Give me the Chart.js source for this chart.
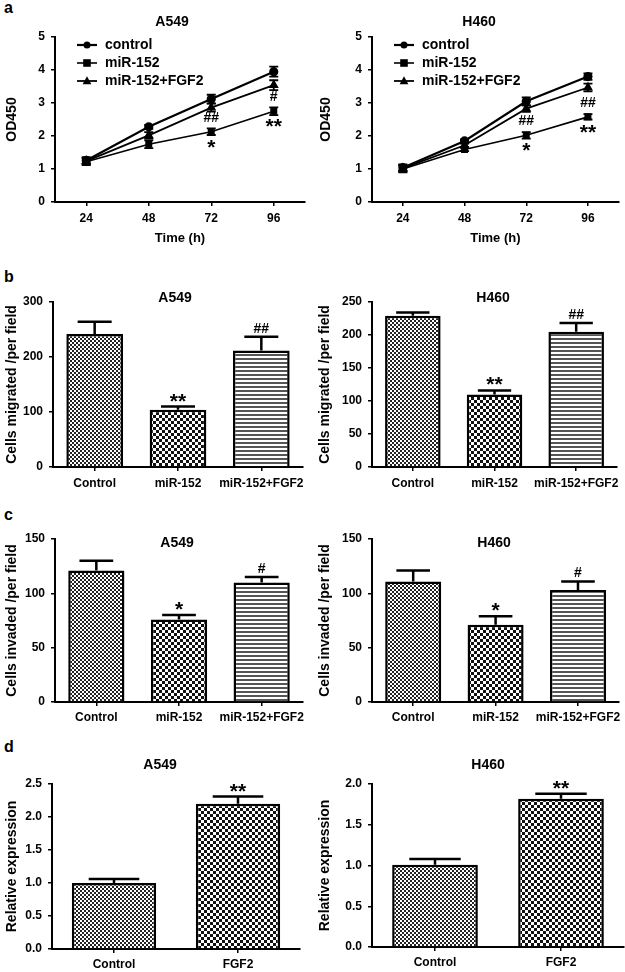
<!DOCTYPE html>
<html>
<head>
<meta charset="utf-8">
<script src="https://cdn.jsdelivr.net/npm/chart.js@4.4.0/dist/chart.umd.min.js"></script>
<style>
body{margin:0;background:#fff;width:625px;height:972px;position:relative;overflow:hidden;font-family:"Liberation Sans",Arial,sans-serif}
canvas{position:absolute}
.lt{position:absolute;left:4px;font-weight:bold;font-size:16px;line-height:16px}
</style>
</head>
<body>
<div class="lt" style="top:0px">a</div>
<div class="lt" style="top:269px">b</div>
<div class="lt" style="top:507px">c</div>
<div class="lt" style="top:739px">d</div>

<canvas id="a1" width="312" height="250" style="left:0;top:0"></canvas>
<canvas id="a2" width="313" height="250" style="left:312px;top:0"></canvas>
<canvas id="b1" width="312" height="245" style="left:0;top:250px"></canvas>
<canvas id="b2" width="313" height="245" style="left:312px;top:250px"></canvas>
<canvas id="c1" width="312" height="235" style="left:0;top:495px"></canvas>
<canvas id="c2" width="313" height="235" style="left:312px;top:495px"></canvas>
<canvas id="d1" width="312" height="242" style="left:0;top:730px"></canvas>
<canvas id="d2" width="313" height="242" style="left:312px;top:730px"></canvas>

<script>
// data
var hours = ['24', '48', '72', '96'];
var groups = ['Control', 'miR-152', 'miR-152+FGF2'];
var exprGroups = ['Control', 'FGF2'];
var seriesNames = ['control', 'miR-152', 'miR-152+FGF2'];

// a: OD450 proliferation
var odA549Control = [1.26, 2.28, 3.12, 3.95];
var odA549Mir = [1.22, 1.75, 2.13, 2.75];
var odA549Fgf = [1.24, 2.02, 2.86, 3.54];
var odA549ControlErr = [0.10, 0.06, 0.13, 0.15];
var odA549MirErr = [0.10, 0.12, 0.10, 0.12];
var odA549FgfErr = [0.10, 0.10, 0.12, 0.15];
var sigA549Mir = ['', '', '*', '**'];
var sigA549Fgf = ['', '', '##', '#'];

var odH460Control = [1.04, 1.85, 3.05, 3.80];
var odH460Mir = [1.00, 1.59, 2.02, 2.58];
var odH460Fgf = [1.02, 1.72, 2.83, 3.47];
var odH460ControlErr = [0.10, 0.05, 0.12, 0.10];
var odH460MirErr = [0.10, 0.05, 0.10, 0.08];
var odH460FgfErr = [0.10, 0.05, 0.10, 0.12];
var sigH460Mir = ['', '', '*', '**'];
var sigH460Fgf = ['', '', '##', '##'];

// b: migration
var migA549 = [242, 104, 212];
var migA549Err = [22, 6, 25];
var migA549Sig = ['', '**', '##'];
var migH460 = [229, 110, 205];
var migH460Err = [5, 6, 13];
var migH460Sig = ['', '**', '##'];

// c: invasion
var invA549 = [121, 76, 110];
var invA549Err = [9, 4, 5];
var invA549Sig = ['', '*', '#'];
var invH460 = [111, 71, 103];
var invH460Err = [10, 8, 8];
var invH460Sig = ['', '*', '#'];

// d: relative expression
var exprA549 = [1.00, 2.20];
var exprA549Err = [0.06, 0.11];
var exprA549Sig = ['', '**'];
var exprH460 = [1.01, 1.82];
var exprH460Err = [0.07, 0.06];
var exprH460Sig = ['', '**'];

var FONT = '"Liberation Sans", Arial, sans-serif';
Chart.defaults.font.family = FONT;
Chart.defaults.font.weight = 'bold';
Chart.defaults.font.size = 12;
Chart.defaults.color = '#000';
Chart.defaults.animation = false;

function makePattern(kind) {
  var c = document.createElement('canvas');
  var g = c.getContext('2d');
  if (kind === 'fine') {
    c.width = c.height = 4;
    g.fillStyle = '#fff'; g.fillRect(0, 0, 4, 4);
    g.fillStyle = '#222'; g.fillRect(0, 0, 2, 2); g.fillRect(2, 2, 2, 2);
  } else if (kind === 'coarse') {
    c.width = c.height = 6;
    g.fillStyle = '#fff'; g.fillRect(0, 0, 6, 6);
    g.fillStyle = '#111'; g.fillRect(0, 0, 3, 3); g.fillRect(3, 3, 3, 3);
  } else {
    c.width = 4; c.height = 4;
    g.fillStyle = '#fff'; g.fillRect(0, 0, 4, 4);
    g.fillStyle = '#555'; g.fillRect(0, 0, 4, 2);
  }
  return g.createPattern(c, 'repeat');
}
var fine = makePattern('fine'), coarse = makePattern('coarse'), stripes = makePattern('stripes');

function inkText(ctx, txt, x, yc) {
  ctx.font = txt.indexOf('*') >= 0 ? 'bold 21px ' + FONT : 'bold 14px ' + FONT;
  ctx.textAlign = 'center';
  ctx.textBaseline = 'alphabetic';
  var m = ctx.measureText(txt);
  ctx.fillText(txt, x, yc + (m.actualBoundingBoxAscent - m.actualBoundingBoxDescent) / 2);
}

function drawMarker(ctx, style, x, y, r) {
  ctx.fillStyle = '#000';
  ctx.beginPath();
  if (style === 'rect') ctx.rect(x - r, y - r, 2 * r, 2 * r);
  else if (style === 'triangle') {
    ctx.moveTo(x, y - r * 1.2); ctx.lineTo(x + r * 1.1, y + r * 0.8); ctx.lineTo(x - r * 1.1, y + r * 0.8); ctx.closePath();
  } else ctx.arc(x, y, r, 0, Math.PI * 2);
  ctx.fill();
}

var errorBars = {
  id: 'errorBars',
  afterDatasetsDraw: function(chart) {
    var ctx = chart.ctx, ys = chart.scales.y, isBar = chart.config.type === 'bar';
    ctx.save();
    ctx.strokeStyle = '#000';
    chart.data.datasets.forEach(function(ds, di) {
      if (!ds.errors) return;
      chart.getDatasetMeta(di).data.forEach(function(el, i) {
        var v = ds.data[i], e = ds.errors[i];
        var top = ys.getPixelForValue(v + e);
        var bot = isBar ? el.y : ys.getPixelForValue(v - e);
        var cap = isBar ? el.width * 0.3 : 4.5;
        ctx.lineWidth = isBar ? 2.5 : 1.8;
        ctx.beginPath();
        ctx.moveTo(el.x, bot); ctx.lineTo(el.x, top);
        ctx.moveTo(el.x - cap, top); ctx.lineTo(el.x + cap, top);
        if (!isBar) { ctx.moveTo(el.x - cap, bot); ctx.lineTo(el.x + cap, bot); }
        ctx.stroke();
        ctx.fillStyle = '#000';
        if (ds.sig && ds.sig[i]) inkText(ctx, ds.sig[i], el.x, top - 9);
        if (ds.sigBelow && ds.sigBelow[i]) inkText(ctx, ds.sigBelow[i], el.x, el.y + 12);
        if (ds.sigAbove && ds.sigAbove[i]) inkText(ctx, ds.sigAbove[i], el.x, el.y - 15);
      });
    });
    ctx.restore();
  }
};

var inLegend = {
  id: 'inLegend',
  afterDatasetsDraw: function(chart, args, opts) {
    if (!opts.display) return;
    var ctx = chart.ctx, a = chart.chartArea;
    ctx.save();
    chart.data.datasets.forEach(function(ds, i) {
      var y = a.top + 8 + i * 18, x0 = a.left + 22, x1 = a.left + 42;
      ctx.strokeStyle = '#000'; ctx.lineWidth = ds.borderWidth;
      ctx.beginPath(); ctx.moveTo(x0, y); ctx.lineTo(x1, y); ctx.stroke();
      drawMarker(ctx, ds.pointStyle, (x0 + x1) / 2, y, ds.pointRadius);
      ctx.fillStyle = '#000';
      ctx.font = 'bold 14px ' + FONT;
      ctx.textAlign = 'left'; ctx.textBaseline = 'middle';
      ctx.fillText(ds.label, a.left + 50, y);
    });
    ctx.restore();
  }
};

var panelTitle = {
  id: 'panelTitle',
  afterDraw: function(chart, args, o) {
    if (!o.text) return;
    var ctx = chart.ctx;
    ctx.save();
    ctx.fillStyle = '#000';
    ctx.font = 'bold 14px ' + FONT;
    ctx.textAlign = 'center'; ctx.textBaseline = 'middle';
    ctx.fillText(o.text, o.x, o.y);
    ctx.restore();
  }
};

function axisY(max, step, title, yW, titlePad, dec) {
  return {
    min: 0, max: max,
    ticks: { stepSize: step, padding: 6, color: '#000', font: { size: 12, weight: 'bold' },
      callback: function(v) { return dec ? v.toFixed(dec) : v; } },
    grid: { drawOnChartArea: false, drawTicks: true, tickLength: 4, color: '#000', lineWidth: 1.5 },
    border: { color: '#000', width: 2 },
    title: { display: true, text: title, color: '#000', font: { size: 14, weight: 'bold' }, padding: { top: titlePad, bottom: 0 } },
    afterFit: function(s) { s.width = yW; }
  };
}

function axisX(xH, tickPad, title) {
  return {
    type: 'category', offset: true,
    ticks: { padding: tickPad, color: '#000', font: { size: 12, weight: 'bold' }, maxRotation: 0, autoSkip: false },
    grid: { offset: false, drawOnChartArea: false, drawTicks: true, tickLength: 4, color: '#000', lineWidth: 1.5 },
    border: { color: '#000', width: 2 },
    title: title ? { display: true, text: title, color: '#000', font: { size: 13, weight: 'bold' }, padding: { top: 0, bottom: 4 } } : { display: false },
    afterFit: function(s) { s.height = xH; }
  };
}

function lineSet(label, data, errs, style, r, w) {
  return { label: label, data: data, errors: errs, borderColor: '#000', backgroundColor: '#000',
    borderWidth: w, pointStyle: style, pointRadius: r, pointBackgroundColor: '#000', pointBorderColor: '#000', tension: 0 };
}

function lineChart(id, title, tx, yW, titlePad, padR, c, m, f, ce, me, fe, sm, sf) {
  var mir = lineSet(seriesNames[1], m, me, 'rect', 3.8, 1.6);
  mir.sigBelow = sm; mir.sigAbove = sf;
  new Chart(document.getElementById(id), {
    type: 'line',
    data: { labels: hours, datasets: [
      lineSet(seriesNames[0], c, ce, 'circle', 3.5, 2.2),
      mir,
      lineSet(seriesNames[2], f, fe, 'triangle', 4, 1.8)
    ] },
    options: {
      responsive: false,
      layout: { padding: { left: 0, top: 37, right: padR, bottom: 0 } },
      plugins: { legend: { display: false }, tooltip: { enabled: false },
        inLegend: { display: true }, panelTitle: { text: title, x: tx, y: 22 } },
      scales: { x: axisX(48, 5, 'Time (h)'), y: axisY(5, 1, 'OD450', yW, titlePad, 0) }
    },
    plugins: [errorBars, inLegend, panelTitle]
  });
}

function barChart(id, opt) {
  new Chart(document.getElementById(id), {
    type: 'bar',
    data: { labels: opt.labels, datasets: [{ data: opt.data, errors: opt.errs, sig: opt.sig,
      backgroundColor: opt.fills, borderColor: '#000', borderWidth: 2.5,
      barPercentage: 0.68, categoryPercentage: 1 }] },
    options: {
      responsive: false,
      layout: { padding: { left: 0, top: opt.top, right: opt.padR, bottom: 0 } },
      plugins: { legend: { display: false }, tooltip: { enabled: false },
        panelTitle: { text: opt.title, x: opt.tx, y: opt.ty } },
      scales: { x: axisX(opt.xH, opt.tickPad), y: axisY(opt.max, opt.step, opt.ytitle, opt.yW, opt.titlePad, opt.dec) }
    },
    plugins: [errorBars, panelTitle]
  });
}

lineChart('a1', 'A549', 172, 55, 3.6, 7, odA549Control, odA549Mir, odA549Fgf,
  odA549ControlErr, odA549MirErr, odA549FgfErr, sigA549Mir, sigA549Fgf);
lineChart('a2', 'H460', 167, 60, 6, 3, odH460Control, odH460Mir, odH460Fgf,
  odH460ControlErr, odH460MirErr, odH460FgfErr, sigH460Mir, sigH460Fgf);

var three = [fine, coarse, stripes];
barChart('b1', { labels: groups, data: migA549, errs: migA549Err, sig: migA549Sig, fills: three,
  top: 52, padR: 9, xH: 28, tickPad: 5.8, max: 300, step: 100, ytitle: 'Cells migrated /per field',
  yW: 53, titlePad: 3.6, title: 'A549', tx: 175, ty: 48 });
barChart('b2', { labels: groups, data: migH460, errs: migH460Err, sig: migH460Sig, fills: three,
  top: 52, padR: 5, xH: 28, tickPad: 5.8, max: 250, step: 50, ytitle: 'Cells migrated /per field',
  yW: 60, titlePad: 5, title: 'H460', tx: 181, ty: 48 });
barChart('c1', { labels: groups, data: invA549, errs: invA549Err, sig: invA549Sig, fills: three,
  top: 44, padR: 9, xH: 28, tickPad: 4, max: 150, step: 50, ytitle: 'Cells invaded /per field',
  yW: 55, titlePad: 3.6, title: 'A549', tx: 177, ty: 48 });
barChart('c2', { labels: groups, data: invH460, errs: invH460Err, sig: invH460Sig, fills: three,
  top: 44, padR: 5, xH: 28, tickPad: 4, max: 150, step: 50, ytitle: 'Cells invaded /per field',
  yW: 60, titlePad: 5, title: 'H460', tx: 182, ty: 48 });
barChart('d1', { labels: exprGroups, data: exprA549, errs: exprA549Err, sig: exprA549Sig, fills: [fine, coarse],
  top: 54, padR: 12, xH: 23, tickPad: 4, max: 2.5, step: 0.5, ytitle: 'Relative expression', dec: 1,
  yW: 52, titlePad: 3.6, title: 'A549', tx: 160, ty: 35 });
barChart('d2', { labels: exprGroups, data: exprH460, errs: exprH460Err, sig: exprH460Sig, fills: [fine, coarse],
  top: 54, padR: 1, xH: 25, tickPad: 4, max: 2.0, step: 0.5, ytitle: 'Relative expression', dec: 1,
  yW: 60, titlePad: 5, title: 'H460', tx: 176, ty: 35 });
</script>
</body>
</html>
